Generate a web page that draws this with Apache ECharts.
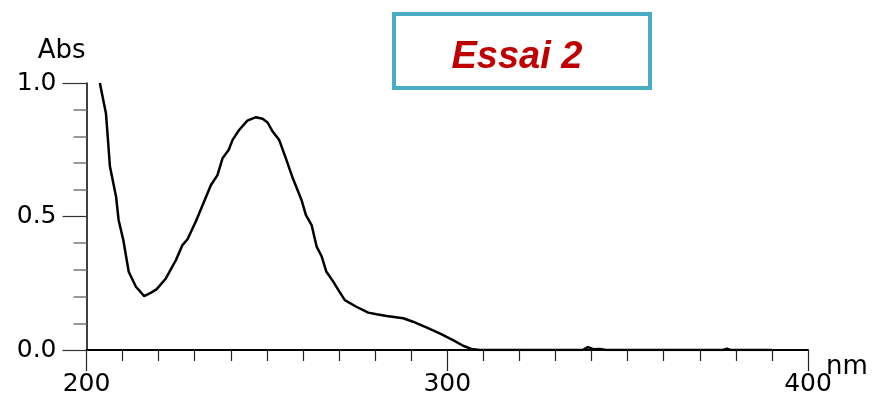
<!DOCTYPE html>
<html><head><meta charset="utf-8">
<script src="https://cdn.jsdelivr.net/npm/echarts@6/dist/echarts.min.js"></script>
<style>html,body{margin:0;padding:0;background:#fff}#c{width:873px;height:394px}</style>
</head><body><div id="c"></div>
<script>
const wavelength = [203.7,205.4,206.5,208.2,208.9,210.2,211.7,213.7,216.0,217.9,219.4,222.0,224.8,226.6,228.0,230.3,232.6,234.5,236.3,237.7,239.4,240.5,242.3,244.6,247.0,248.8,250.2,251.6,253.4,255.1,257.0,259.6,260.8,262.4,263.8,265.2,266.5,268.4,269.8,271.6,274.8,278.1,280.4,283.2,287.8,290.5,294.2,297.9,301.6,304.4,306.7,309,320,330,337.5,339,340.5,342.3,344,360,376.5,377.5,378.5,390];
const absorbance = [1.0,0.886,0.687,0.574,0.487,0.412,0.293,0.237,0.202,0.215,0.227,0.268,0.337,0.393,0.415,0.481,0.556,0.618,0.655,0.718,0.749,0.787,0.824,0.859,0.872,0.866,0.852,0.818,0.787,0.724,0.650,0.562,0.506,0.468,0.387,0.350,0.293,0.256,0.225,0.187,0.162,0.140,0.134,0.127,0.119,0.106,0.085,0.062,0.037,0.016,0.004,0,0,0,0,0.011,0.003,0.004,0,0,0,0.005,0,0];
const yLabels = ['0.0','0.5','1.0'];
const xLabels = ['200','300','400'];
const titleText = 'Essai 2';

const chart = echarts.init(document.getElementById('c'));
chart.setOption({
  animation:false,
  backgroundColor:'#fff',
  grid:{left:86.5,right:65,top:83,bottom:44,containLabel:false,outerBoundsMode:'none'},
  xAxis:{type:'value',min:200,max:400,interval:100,
    name:'nm',nameLocation:'end',nameGap:18,nameMoveOverlap:false,
    nameTextStyle:{fontFamily:'DejaVu Sans',fontSize:26,color:'#000',align:'left',verticalAlign:'top',padding:[4,0,0,0]},
    axisLine:{show:true,onZero:false,lineStyle:{color:'#000',width:2}},
    axisTick:{show:true,length:21,lineStyle:{color:'#222',width:1.2}},
    minorTick:{show:true,splitNumber:10,length:11,lineStyle:{color:'#222',width:1.2}},
    splitLine:{show:false},minorSplitLine:{show:false},
    axisLabel:{margin:22,fontFamily:'DejaVu Sans',fontSize:25,color:'#000',
      formatter:v=>{const s=String(v);return xLabels.includes(s)?s:'';}}
  },
  yAxis:{type:'value',min:0,max:1,interval:0.5,
    name:'Abs',nameLocation:'end',nameGap:19,nameMoveOverlap:false,
    nameTextStyle:{fontFamily:'DejaVu Sans',fontSize:26,color:'#000',align:'right',verticalAlign:'bottom',padding:[0,1,0,0]},
    axisLine:{show:true,lineStyle:{color:'#000',width:1.5}},
    axisTick:{show:true,length:24,lineStyle:{color:'#333',width:1.2}},
    minorTick:{show:true,splitNumber:5,length:13,lineStyle:{color:'#777',width:1.5}},
    splitLine:{show:false},minorSplitLine:{show:false},
    axisLabel:{margin:30,fontFamily:'DejaVu Sans',fontSize:25,color:'#000',
      formatter:v=>yLabels[Math.round(v*2)]||''}
  },
  series:[{type:'line',showSymbol:false,symbol:'none',smooth:false,
    lineStyle:{color:'#000',width:2.5},
    data:wavelength.map((w,i)=>[w,absorbance[i]])}],
  graphic:[
    {type:'rect',shape:{x:394,y:14,width:256,height:74},style:{fill:'#fff',stroke:'#4BACC6',lineWidth:4},z:10},
    {type:'text',x:517,y:58,style:{text:titleText,fill:'#C00000',font:'italic bold 38px "Liberation Sans"',align:'center',verticalAlign:'middle'},z:11}
  ]
});
</script></body></html>
